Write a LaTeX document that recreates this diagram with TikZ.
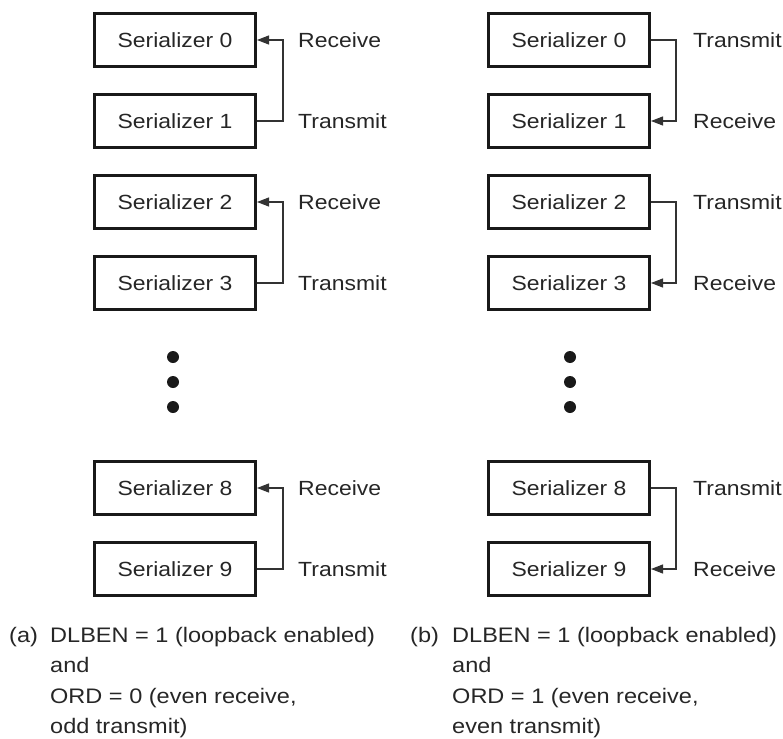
\documentclass[tikz,border=0pt]{standalone}
\usepackage{fontspec}
\setmainfont[FakeStretch=1.12]{Liberation Sans}
\usetikzlibrary{arrows.meta}
\begin{document}
\begin{tikzpicture}[x=1pt,y=-1pt,
  serbox/.style={draw=black!90, line width=3pt, minimum width=161pt, minimum height=53pt, inner sep=0pt, font=\fontsize{20.5}{24}\selectfont, text=black!85},
  lbl/.style={anchor=west, inner sep=0pt, font=\fontsize{20.5}{24}\selectfont, text=black!85},
  capt/.style={anchor=base west, inner sep=0pt, font=\fontsize{21}{24}\selectfont, text=black!85},
  conn/.style={line width=1.1pt, draw=black!80},
  arr/.style={conn, -{Triangle[length=12pt,width=9pt]}},
  dotm/.style={circle, fill=black!90, inner sep=0pt, minimum size=12pt}]
\useasboundingbox (0,0) rectangle (783,738);
% left column
\node[serbox] (L0) at (175,40) {Serializer 0};
\node[serbox] (L1) at (175,121) {Serializer 1};
\node[serbox] (L2) at (175,202) {Serializer 2};
\node[serbox] (L3) at (175,283) {Serializer 3};
\node[serbox] (L8) at (175,488) {Serializer 8};
\node[serbox] (L9) at (175,569) {Serializer 9};
% right column
\node[serbox] (R0) at (569,40) {Serializer 0};
\node[serbox] (R1) at (569,121) {Serializer 1};
\node[serbox] (R2) at (569,202) {Serializer 2};
\node[serbox] (R3) at (569,283) {Serializer 3};
\node[serbox] (R8) at (569,488) {Serializer 8};
\node[serbox] (R9) at (569,569) {Serializer 9};
% labels left
\node[lbl] (la0) at (298,40) {Receive};
\node[lbl] (la1) at (298,121) {Transmit};
\node[lbl] (la2) at (298,202) {Receive};
\node[lbl] (la3) at (298,283) {Transmit};
\node[lbl] (la8) at (298,488) {Receive};
\node[lbl] (la9) at (298,569) {Transmit};
% labels right
\node[lbl] (lb0) at (693,40) {Transmit};
\node[lbl] (lb1) at (693,121) {Receive};
\node[lbl] (lb2) at (693,202) {Transmit};
\node[lbl] (lb3) at (693,283) {Receive};
\node[lbl] (lb8) at (693,488) {Transmit};
\node[lbl] (lb9) at (693,569) {Receive};
% connectors left (odd -> even)
\draw[arr] (L1.east) -- ++(26,0) |- (L0.east);
\draw[arr] (L3.east) -- ++(26,0) |- (L2.east);
\draw[arr] (L9.east) -- ++(26,0) |- (L8.east);
% connectors right (even -> odd)
\draw[arr] (R0.east) -- ++(25,0) |- (R1.east);
\draw[arr] (R2.east) -- ++(25,0) |- (R3.east);
\draw[arr] (R8.east) -- ++(25,0) |- (R9.east);
% dots
\node[dotm] (da1) at (173,357) {};
\node[dotm] (da2) at (173,382) {};
\node[dotm] (da3) at (173,407) {};
\node[dotm] (db1) at (570,357) {};
\node[dotm] (db2) at (570,382) {};
\node[dotm] (db3) at (570,407) {};
% captions
\node[capt] (ca) at (9,642) {(a)};
\node[capt] (ca1) at (50,642) {DLBEN = 1 (loopback enabled)};
\node[capt] (ca2) at (50,672.5) {and};
\node[capt] (ca3) at (50,703) {ORD = 0 (even receive,};
\node[capt] (ca4) at (50,733.5) {odd transmit)};
\node[capt] (cb) at (410,642) {(b)};
\node[capt] (cb1) at (452,642) {DLBEN = 1 (loopback enabled)};
\node[capt] (cb2) at (452,672.5) {and};
\node[capt] (cb3) at (452,703) {ORD = 1 (even receive,};
\node[capt] (cb4) at (452,733.5) {even transmit)};
\end{tikzpicture}
\end{document}
